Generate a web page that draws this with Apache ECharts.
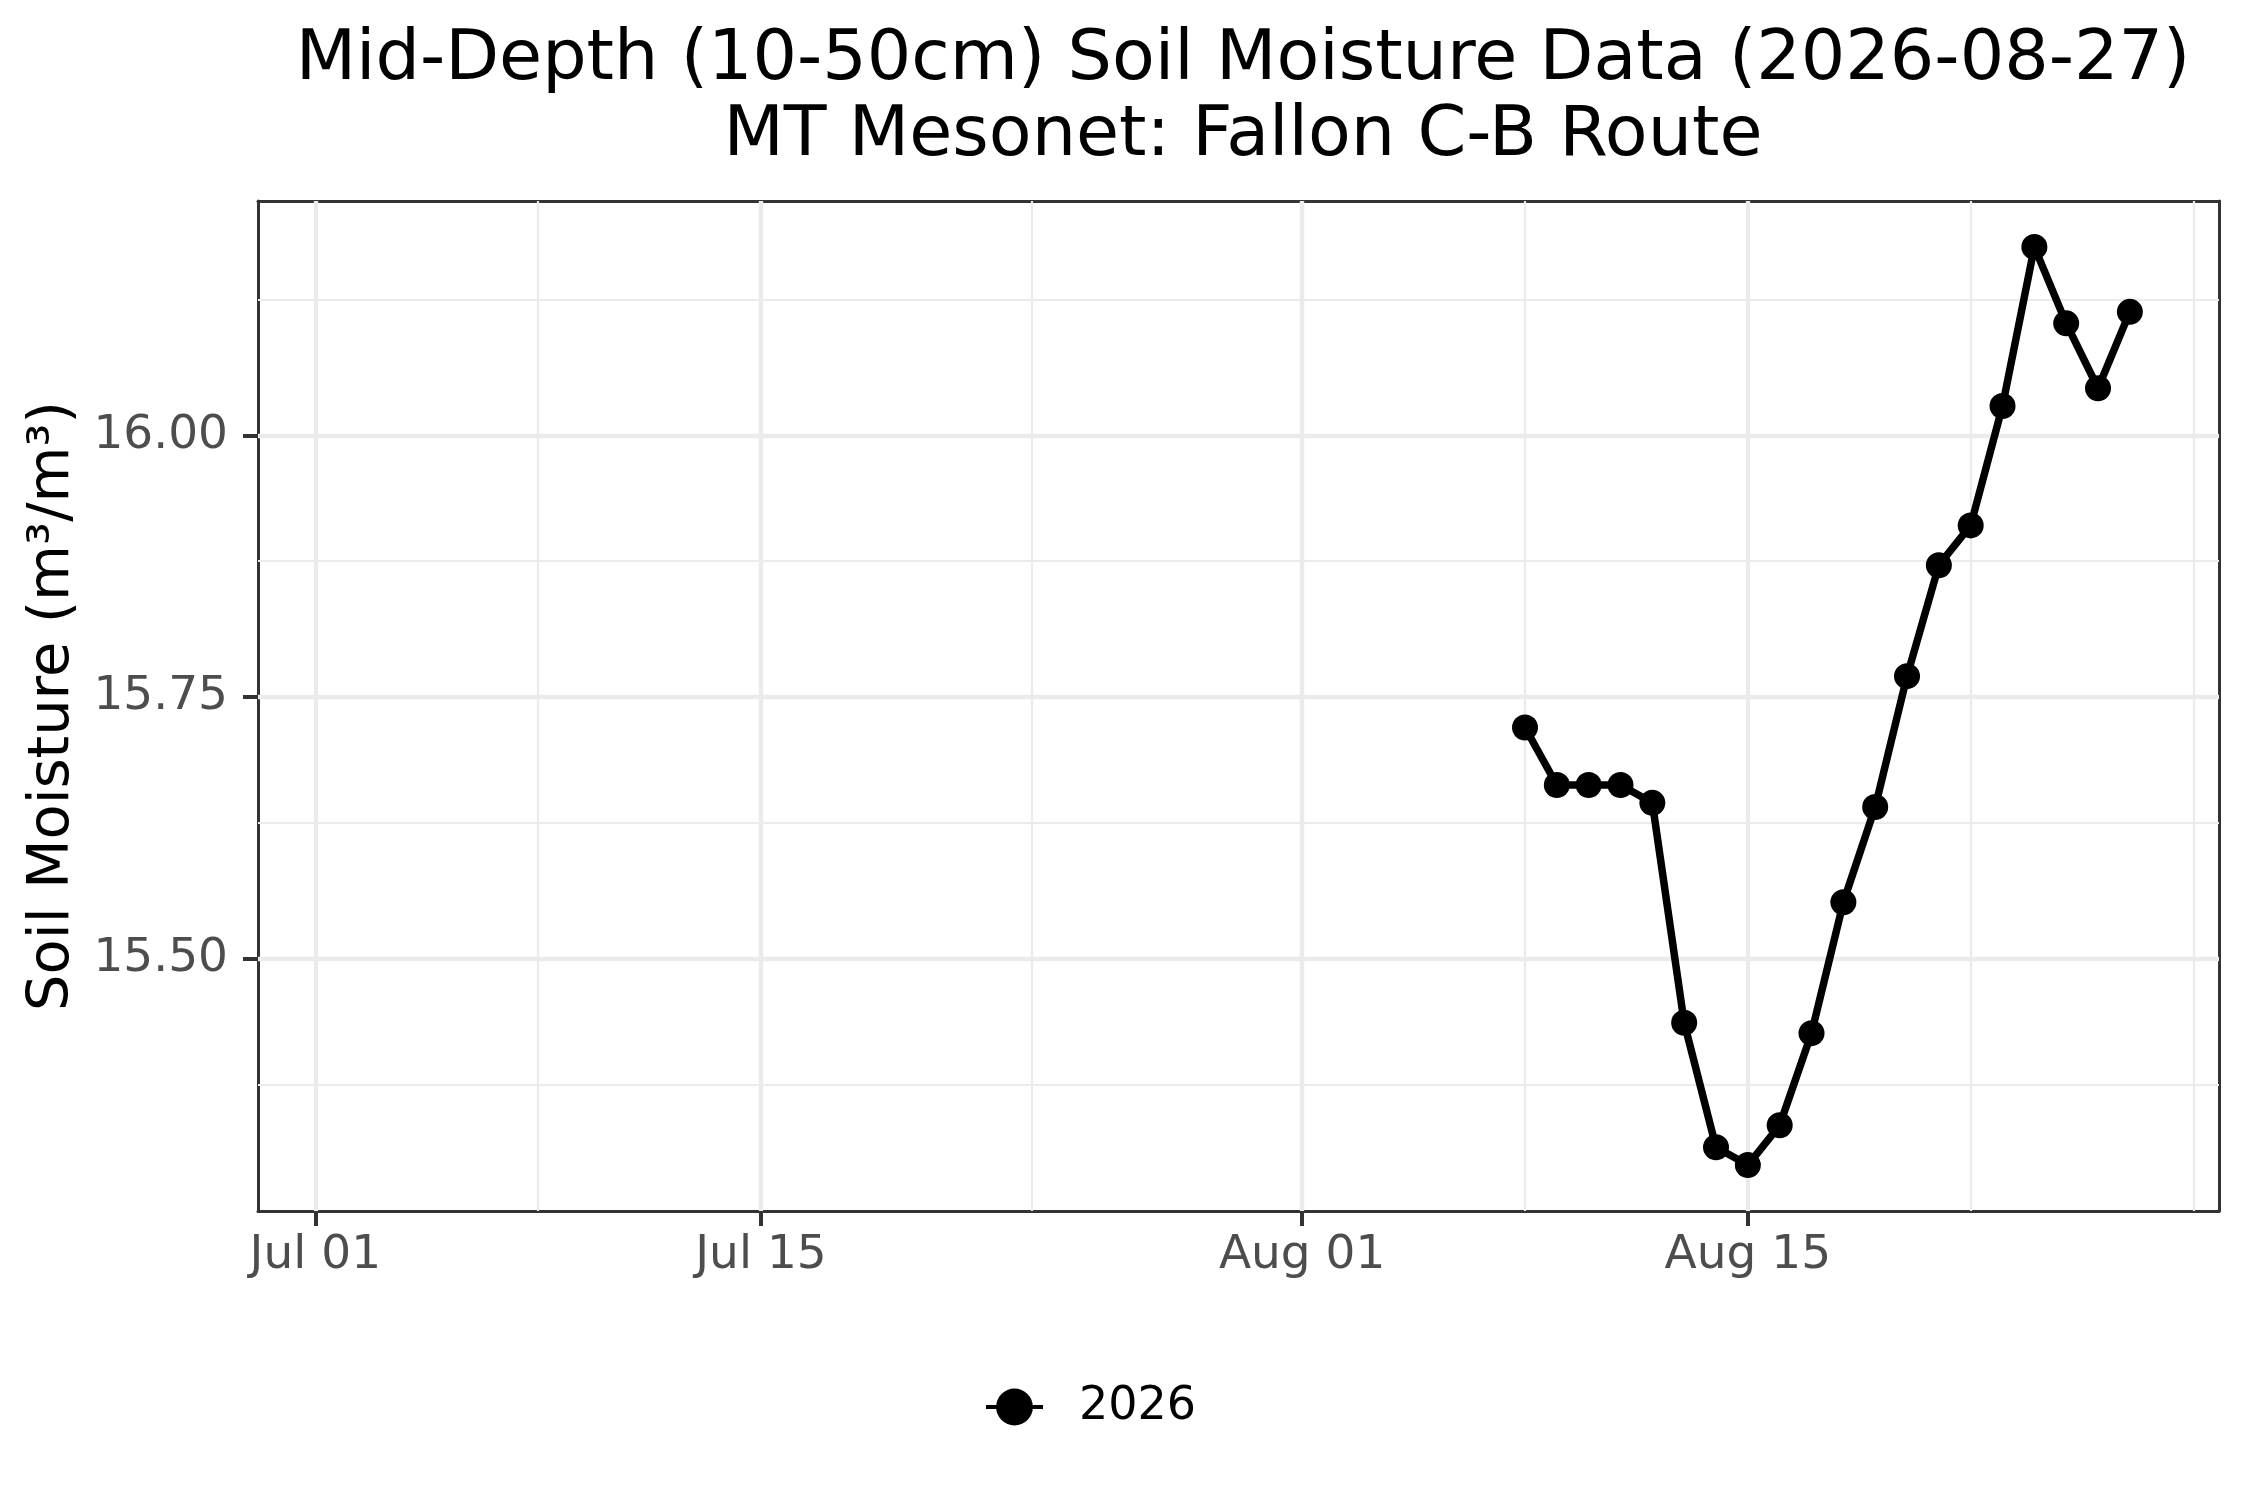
<!DOCTYPE html>
<html>
<head>
<meta charset="utf-8">
<script src="https://cdn.jsdelivr.net/npm/echarts@6/dist/echarts.min.js"></script>
<style>
html,body{margin:0;padding:0;background:#fff;}
#chart{width:2250px;height:1500px;}
</style>
</head>
<body>
<div id="chart"></div>
<script>
// ---- data ----
var dates = ['2026-08-08','2026-08-09','2026-08-10','2026-08-11','2026-08-12','2026-08-13','2026-08-14',
             '2026-08-15','2026-08-16','2026-08-17','2026-08-18','2026-08-19','2026-08-20','2026-08-21',
             '2026-08-22','2026-08-23','2026-08-24','2026-08-25','2026-08-26','2026-08-27'];
var moisture = [15.721,15.666,15.666,15.666,15.649,15.439,15.320,
                15.303,15.341,15.429,15.554,15.645,15.770,15.876,
                15.914,16.028,16.180,16.107,16.045,16.118];
var seriesName = '2026';
var xTickDates = ['2026-07-01','2026-07-15','2026-08-01','2026-08-15'];
var xTickLabels = ['Jul 01','Jul 15','Aug 01','Aug 15'];
var xMinorDates = ['2026-07-08','2026-07-23T12:00','2026-08-08','2026-08-22','2026-08-29'];
var xLimitDates = ['2026-07-02','2026-08-27'];
var yTicks = [15.50, 15.75, 16.00];
var yMinorTicks = [15.375, 15.625, 15.875, 16.125];
var titleLine1 = 'Mid-Depth (10-50cm) Soil Moisture Data (2026-08-27)';
var titleLine2 = 'MT Mesonet: Fallon C-B Route';
var yAxisTitle = 'Soil Moisture (m\u00B3/m\u00B3)';

// ---- helpers ----
function ts(s) {
  var p = s.split('T');
  var d = p[0].split('-').map(Number);
  var h = 0, m = 0;
  if (p[1]) { var t = p[1].split(':').map(Number); h = t[0]; m = t[1]; }
  return Date.UTC(d[0], d[1] - 1, d[2], h, m);
}
var xl0 = ts(xLimitDates[0]), xl1 = ts(xLimitDates[1]);
var xExp = (xl1 - xl0) * 0.05;
var xMin = xl0 - xExp, xMax = xl1 + xExp;
var yLo = Math.min.apply(null, moisture), yHi = Math.max.apply(null, moisture);
var yExp = (yHi - yLo) * 0.05;
var yMin = yLo - yExp, yMax = yHi + yExp;

var xTickVals = xTickDates.map(ts);
var seriesData = dates.map(function (d, i) { return [ts(d), moisture[i]]; });

var FONT = 'DejaVu Sans';
var majorStyle = { color: '#EBEBEB', width: 4.4, type: 'solid' };
var minorStyle = { color: '#EBEBEB', width: 2.2, type: 'solid' };

var gridLines = [];
xMinorDates.forEach(function (d) { gridLines.push({ xAxis: ts(d), lineStyle: minorStyle }); });
yMinorTicks.forEach(function (v) { gridLines.push({ yAxis: v, lineStyle: minorStyle }); });
xTickVals.forEach(function (v) { gridLines.push({ xAxis: v, lineStyle: majorStyle }); });
yTicks.forEach(function (v) { gridLines.push({ yAxis: v, lineStyle: majorStyle }); });

var chart = echarts.init(document.getElementById('chart'), null, { renderer: 'canvas' });
chart.setOption({
  animation: false,
  backgroundColor: '#ffffff',
  title: [
    { text: titleLine1, left: 1243, textAlign: 'center', top: 26, padding: 0,
      textStyle: { fontFamily: FONT, fontSize: 70, fontWeight: 'normal', color: '#000', lineHeight: 70 } },
    { text: titleLine2, left: 1243, textAlign: 'center', top: 102, padding: 0,
      textStyle: { fontFamily: FONT, fontSize: 70, fontWeight: 'normal', color: '#000', lineHeight: 70 } }
  ],
  legend: {
    data: [seriesName],
    left: 979, top: 1379,
    itemWidth: 57, itemHeight: 46,
    lineStyle: { width: 4 },
    textStyle: { fontFamily: FONT, fontSize: 46, color: '#000', padding: [0, 0, 0, 31] }
  },
  grid: {
    left: 258, right: 31, top: 201, bottom: 289,
    show: true, borderColor: '#333333', borderWidth: 0, backgroundColor: '#fff',
    containLabel: false
  },
  xAxis: [{
    type: 'value', min: xMin, max: xMax, position: 'bottom', scale: true,
    axisLine: { show: true, onZero: false, lineStyle: { color: '#333333', width: 3 } },
    axisTick: { show: true, customValues: xTickVals, length: 15, inside: false, lineStyle: { color: '#333333', width: 4 } },
    axisLabel: { show: true, customValues: xTickVals, margin: 21, fontFamily: FONT, fontSize: 47, color: '#4D4D4D',
      showMinLabel: true, showMaxLabel: true,
      formatter: function (v) { var i = xTickVals.indexOf(v); return i >= 0 ? xTickLabels[i] : ''; } },
    splitLine: { show: false }, minorSplitLine: { show: false }
  }, {
    type: 'value', min: xMin, max: xMax, position: 'top', scale: true,
    axisLine: { show: true, onZero: false, lineStyle: { color: '#333333', width: 3 } },
    axisTick: { show: false }, axisLabel: { show: false }, splitLine: { show: false }
  }],
  yAxis: [{
    type: 'value', min: yMin, max: yMax, position: 'left', scale: true,
    name: yAxisTitle, nameLocation: 'middle', nameRotate: 90, nameGap: 172,
    nameTextStyle: { fontFamily: FONT, fontSize: 57.5, color: '#000' },
    axisLine: { show: true, onZero: false, lineStyle: { color: '#333333', width: 3 } },
    axisTick: { show: true, customValues: yTicks, length: 15, inside: false, lineStyle: { color: '#333333', width: 4 } },
    axisLabel: { show: true, customValues: yTicks, margin: 30, fontFamily: FONT, fontSize: 47, color: '#4D4D4D',
      formatter: function (v) { return Number(v).toFixed(2); } },
    splitLine: { show: false }
  }, {
    type: 'value', min: yMin, max: yMax, position: 'right', scale: true,
    axisLine: { show: true, onZero: false, lineStyle: { color: '#333333', width: 3 } },
    axisTick: { show: false }, axisLabel: { show: false }, splitLine: { show: false }
  }],
  series: [{
    name: 'grid', type: 'line', data: [], z: 1, silent: true,
    markLine: { silent: true, symbol: ['none', 'none'], label: { show: false }, animation: false, data: gridLines }
  }, {
    name: seriesName, type: 'line', data: seriesData, z: 5,
    symbol: 'circle', symbolSize: 26, showSymbol: true,
    lineStyle: { color: '#000', width: 7.5 },
    itemStyle: { color: '#000' },
    emphasis: { disabled: true }
  }]
});
</script>
</body>
</html>
